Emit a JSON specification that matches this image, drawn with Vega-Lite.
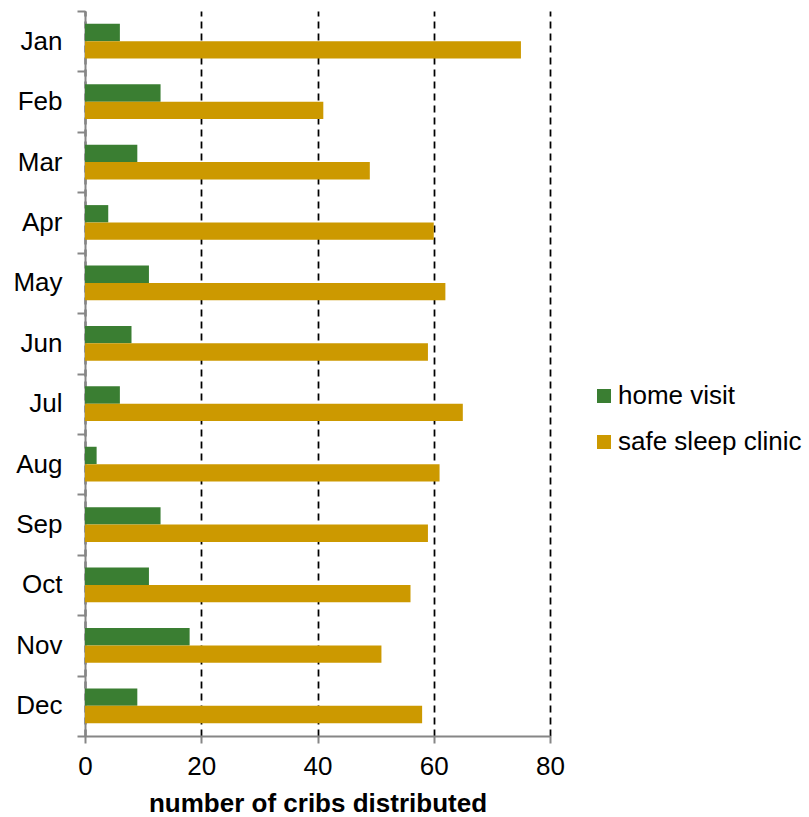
{
  "$schema": "https://vega.github.io/schema/vega-lite/v6.json",
  "width": 465,
  "height": 725,
  "autosize": {"type": "none"},
  "padding": {"left": 85, "top": 11, "right": 259, "bottom": 81},
  "background": "white",
  "config": {
    "view": {"stroke": null},
    "font": "Liberation Sans"
  },
  "data": {
    "values": [
      {"month": "Jan", "type": "home visit", "cribs": 6},
      {"month": "Jan", "type": "safe sleep clinic", "cribs": 75},
      {"month": "Feb", "type": "home visit", "cribs": 13},
      {"month": "Feb", "type": "safe sleep clinic", "cribs": 41},
      {"month": "Mar", "type": "home visit", "cribs": 9},
      {"month": "Mar", "type": "safe sleep clinic", "cribs": 49},
      {"month": "Apr", "type": "home visit", "cribs": 4},
      {"month": "Apr", "type": "safe sleep clinic", "cribs": 60},
      {"month": "May", "type": "home visit", "cribs": 11},
      {"month": "May", "type": "safe sleep clinic", "cribs": 62},
      {"month": "Jun", "type": "home visit", "cribs": 8},
      {"month": "Jun", "type": "safe sleep clinic", "cribs": 59},
      {"month": "Jul", "type": "home visit", "cribs": 6},
      {"month": "Jul", "type": "safe sleep clinic", "cribs": 65},
      {"month": "Aug", "type": "home visit", "cribs": 2},
      {"month": "Aug", "type": "safe sleep clinic", "cribs": 61},
      {"month": "Sep", "type": "home visit", "cribs": 13},
      {"month": "Sep", "type": "safe sleep clinic", "cribs": 59},
      {"month": "Oct", "type": "home visit", "cribs": 11},
      {"month": "Oct", "type": "safe sleep clinic", "cribs": 56},
      {"month": "Nov", "type": "home visit", "cribs": 18},
      {"month": "Nov", "type": "safe sleep clinic", "cribs": 51},
      {"month": "Dec", "type": "home visit", "cribs": 9},
      {"month": "Dec", "type": "safe sleep clinic", "cribs": 58}
    ]
  },
  "mark": {"type": "bar"},
  "encoding": {
    "y": {
      "field": "month",
      "type": "nominal",
      "sort": ["Jan","Feb","Mar","Apr","May","Jun","Jul","Aug","Sep","Oct","Nov","Dec"],
      "scale": {"paddingInner": 0, "paddingOuter": 0},
      "axis": {
        "title": null,
        "tickBand": "extent",
        "labelFontSize": 26,
        "labelColor": "black",
        "labelPadding": 15,
        "domainColor": "#868686",
        "domainWidth": 2,
        "tickColor": "#868686",
        "tickWidth": 2,
        "tickSize": 8,
        "grid": false
      }
    },
    "yOffset": {
      "field": "type",
      "type": "nominal",
      "sort": ["home visit", "safe sleep clinic"],
      "scale": {"paddingInner": 0, "paddingOuter": 0.74}
    },
    "x": {
      "field": "cribs",
      "type": "quantitative",
      "scale": {"domain": [0, 80], "nice": false},
      "axis": {
        "title": "number of cribs distributed",
        "titleFontSize": 26,
        "titleFontWeight": "bold",
        "titleColor": "black",
        "titlePadding": 11,
        "values": [0, 20, 40, 60, 80],
        "labelFlush": false,
        "labelFontSize": 26,
        "labelColor": "black",
        "labelPadding": 10,
        "domainColor": "#868686",
        "domainWidth": 2,
        "tickColor": "#868686",
        "tickWidth": 2,
        "tickSize": 7,
        "grid": true,
        "gridColor": "black",
        "gridDash": [7, 5],
        "gridWidth": 1.75
      }
    },
    "color": {
      "field": "type",
      "type": "nominal",
      "scale": {"domain": ["home visit", "safe sleep clinic"], "range": ["#3A7E32", "#CC9900"]},
      "legend": {
        "title": null,
        "orient": "none",
        "legendX": 506,
        "legendY": 372,
        "symbolType": "square",
        "symbolSize": 196,
        "symbolStrokeWidth": 0,
        "labelFontSize": 26,
        "labelColor": "black",
        "labelOffset": 1,
        "labelLimit": 400,
        "rowPadding": 20
      }
    }
  }
}
